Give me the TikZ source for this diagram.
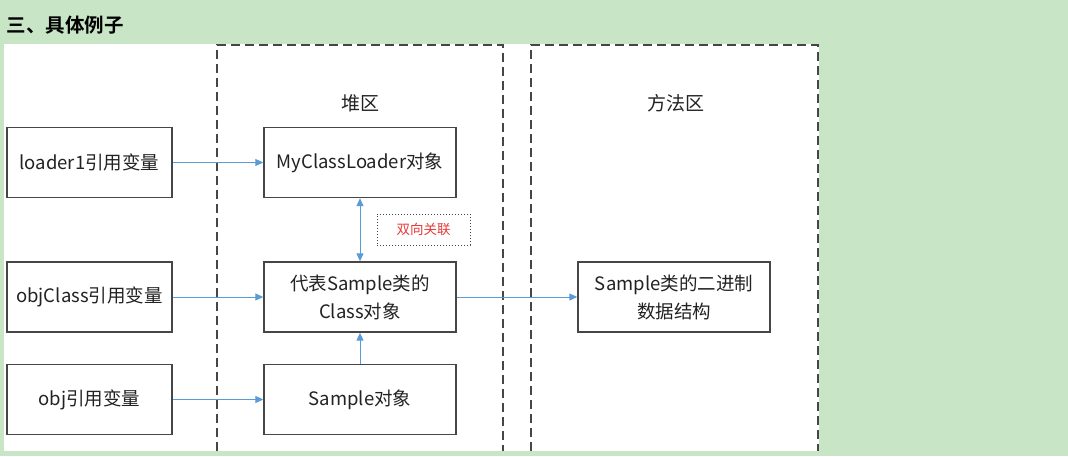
\documentclass[tikz,border=0pt]{standalone}
\usepackage{fontspec}
\setmainfont{Noto Sans CJK SC}
\newfontfamily\cjkbold{Noto Sans CJK SC Bold}
\usetikzlibrary{arrows.meta}
\definecolor{bggreen}{RGB}{200,230,197}
\definecolor{arrowblue}{RGB}{91,155,213}
\definecolor{boxgray}{RGB}{70,70,70}
\definecolor{txtgray}{RGB}{34,34,34}
\definecolor{redtxt}{RGB}{232,56,56}
\tikzset{
  objbox/.style={draw=boxgray, line width=1.4pt, fill=white, rectangle, minimum height=70pt, align=center, font=\fontsize{18.5}{28}\selectfont, text=txtgray, inner sep=2pt},
  refbox/.style={objbox, minimum width=165pt},
  heapbox/.style={objbox, minimum width=192pt},
  region/.style={draw=boxgray, line width=1.8pt, dash pattern=on 9pt off 5pt},
  link/.style={draw=arrowblue, line width=1pt, -{Triangle[length=8pt,width=7pt]}},
  area/.style={font=\fontsize{19}{22}\selectfont, text=txtgray}
}
\begin{document}
\begin{tikzpicture}[x=1pt,y=1pt]
\useasboundingbox (0,0) rectangle (1068,456);
\fill[bggreen] (0,0) rectangle (1068,456);
\fill[white] (4,5) rectangle (819,412);
\node[anchor=west, font=\cjkbold\fontsize{19.5}{21}\selectfont, text=black] (title) at (3,431) {三、具体例子};
% regions
\draw[region] (217,5) -- (217,411) -- (503,411) -- (503,5);
\draw[region] (531,5) -- (531,411) -- (818,411) -- (818,5);
\node[area] (heap) at (360,353) {堆区};
\node[area] (method) at (676,353) {方法区};
% reference variables
\node[refbox] (loader) at (89.5,293.5) {loader1引用变量};
\node[refbox] (objclass) at (89.5,159) {objClass引用变量};
\node[refbox] (obj) at (89.5,56.5) {obj引用变量};
% heap objects
\node[heapbox] (mcl) at (360,293.5) {MyClassLoader对象};
\node[heapbox] (cls) at (360,159) {代表Sample类的\\Class对象};
\node[heapbox] (sample) at (360,56.5) {Sample对象};
% method area
\node[heapbox] (bin) at (674,159) {Sample类的二进制\\数据结构};
% label
\node[draw=boxgray, line width=1pt, dotted, minimum width=93pt, minimum height=31pt, text=redtxt, font=\fontsize{13.5}{15}\selectfont] (assoc) at (423.5,226.5) {双向关联};
% connectors
\draw[link] (loader.east) -- (mcl.west);
\draw[link] (objclass.east) -- (cls.west);
\draw[link] (obj.east) -- (sample.west);
\draw[link, {Triangle[length=8pt,width=7pt]}-{Triangle[length=8pt,width=7pt]}] (mcl.south) -- (cls.north);
\draw[link] (sample.north) -- (cls.south);
\draw[link] (cls.east) -- (bin.west);
\end{tikzpicture}
\end{document}
